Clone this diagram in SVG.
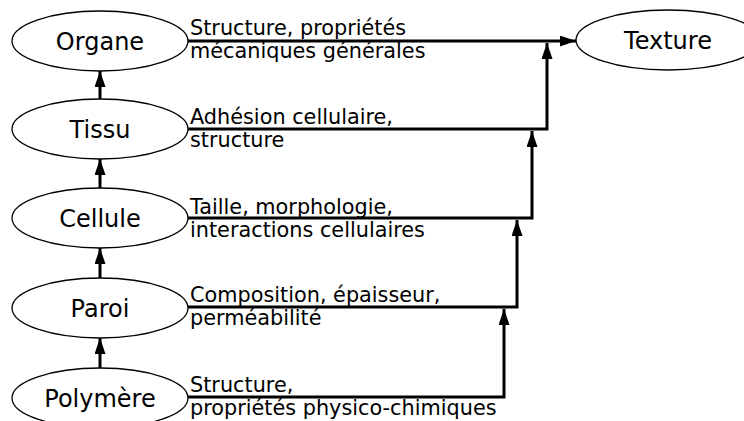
<svg xmlns="http://www.w3.org/2000/svg" width="744" height="421" viewBox="0 0 744 421">
  <defs>
    <marker id="arrow" markerUnits="userSpaceOnUse" markerWidth="17" markerHeight="12" refX="16" refY="5.5" orient="auto">
      <path d="M0,0 L16,5.5 L0,11 z" fill="#000"/>
    </marker>
    <style>
      .node ellipse { fill: #fff; stroke: #000; stroke-width: 1.3; }
      .node text { font-family: "DejaVu Sans", sans-serif; font-size: 24px; text-anchor: middle; fill: #000; }
      .conn { fill: none; stroke: #000; stroke-width: 3; marker-end: url(#arrow); }
      .lbl { font-family: "DejaVu Sans", sans-serif; font-size: 20.8px; fill: #000; }
    </style>
  </defs>
  <rect width="744" height="421" fill="#fff"/>

  <g id="connectors">
    <!-- vertical hierarchy arrows -->
    <path class="conn" d="M100,129 L100,71"/>
    <path class="conn" d="M100,188 L100,159"/>
    <path class="conn" d="M100,278 L100,248"/>
    <path class="conn" d="M100,368 L100,338"/>
    <!-- contributions to texture -->
    <path class="conn" d="M188,41 L576,41"/>
    <path class="conn" d="M188,129 L547,129 L547,43"/>
    <path class="conn" d="M188,218 L532,218 L532,131"/>
    <path class="conn" d="M188,307 L517,307 L517,220"/>
    <path class="conn" d="M188,397 L504,397 L504,309"/>
  </g>

  <g id="labels">
    <text class="lbl" x="190" y="35">Structure, propriétés</text>
    <text class="lbl" x="190" y="58">mécaniques générales</text>
    <text class="lbl" x="190" y="124">Adhésion cellulaire,</text>
    <text class="lbl" x="190" y="147">structure</text>
    <text class="lbl" x="190" y="214">Taille, morphologie,</text>
    <text class="lbl" x="190" y="237">interactions cellulaires</text>
    <text class="lbl" x="190" y="302">Composition, épaisseur,</text>
    <text class="lbl" x="190" y="325">perméabilité</text>
    <text class="lbl" x="190" y="392">Structure,</text>
    <text class="lbl" x="190" y="415">propriétés physico-chimiques</text>
  </g>

  <g id="organe" class="node">
    <ellipse cx="100" cy="41" rx="88" ry="30"/>
    <text x="100" y="49.5">Organe</text>
  </g>
  <g id="tissu" class="node">
    <ellipse cx="100" cy="129" rx="88" ry="30"/>
    <text x="100" y="137.5">Tissu</text>
  </g>
  <g id="cellule" class="node">
    <ellipse cx="100" cy="218" rx="88" ry="30"/>
    <text x="100" y="226.5">Cellule</text>
  </g>
  <g id="paroi" class="node">
    <ellipse cx="100" cy="308" rx="88" ry="30"/>
    <text x="100" y="316.5">Paroi</text>
  </g>
  <g id="polymere" class="node">
    <ellipse cx="100" cy="398" rx="88" ry="30"/>
    <text x="100" y="406.5">Polymère</text>
  </g>
  <g id="texture" class="node">
    <ellipse cx="668" cy="40" rx="92" ry="30"/>
    <text x="668" y="48.5">Texture</text>
  </g>
</svg>
